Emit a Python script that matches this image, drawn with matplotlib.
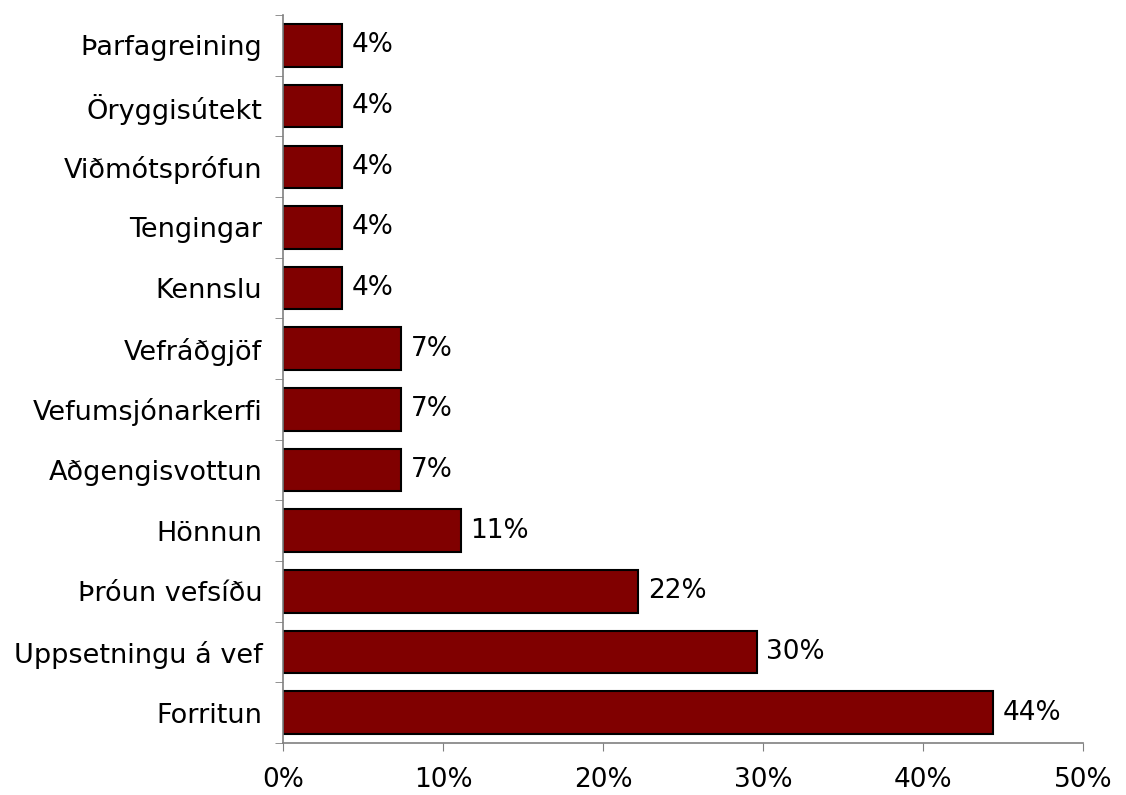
import numpy as np
import matplotlib.pyplot as plt
from matplotlib.ticker import FuncFormatter, FixedLocator

# -----------------------------
# Data (share of responses, %)
# -----------------------------
categories = ["Forritun", "Uppsetningu á vef", "Þróun vefsíðu", "Hönnun",
              "Aðgengisvottun", "Vefumsjónarkerfi", "Vefráðgjöf", "Kennslu",
              "Tengingar", "Viðmótsprófun", "Öryggisútekt", "Þarfagreining"]
values = [44.4, 29.6, 22.2, 11.1, 7.4, 7.4, 7.4, 3.7, 3.7, 3.7, 3.7, 3.7]
value_labels = ["44%", "30%", "22%", "11%", "7%", "7%", "7%", "4%", "4%", "4%", "4%", "4%"]

# -----------------------------
# Plot
# -----------------------------
plt.rcParams['font.family'] = ['DejaVu Sans']
fig = plt.figure(figsize=(11.26, 7.95), dpi=100)
ax = fig.add_axes([0.2513, 0.0654, 0.7105, 0.9156])

y = np.arange(len(categories))
bars = ax.barh(y, values, height=0.7, color="#800000", edgecolor="black", linewidth=1.5)

for bar, lab in zip(bars, value_labels):
    ax.text(bar.get_width() + 0.6, bar.get_y() + bar.get_height() / 2, lab,
            va="center", ha="left", fontsize=19)

ax.set_xlim(0, 50)
ax.set_ylim(-0.5, len(categories) - 0.5)
ax.set_xticks([0, 10, 20, 30, 40, 50])
ax.xaxis.set_major_formatter(FuncFormatter(lambda v, p: f"{v:.0f}%"))
ax.tick_params(axis="x", labelsize=19, length=6, color="#808080", pad=11)

# category labels centred, tick marks on the boundaries
ax.set_yticks(y)
ax.set_yticklabels(categories, fontsize=19.5)
ax.tick_params(axis="y", which="major", length=0, pad=15)
ax.yaxis.set_minor_locator(FixedLocator(np.arange(-0.5, len(categories), 1.0)))
ax.tick_params(axis="y", which="minor", length=6, color="#808080")

for side in ["top", "right"]:
    ax.spines[side].set_visible(False)
for side in ["left", "bottom"]:
    ax.spines[side].set_color("#808080")
    ax.spines[side].set_linewidth(1.2)

fig.savefig("out.png", dpi=100)
